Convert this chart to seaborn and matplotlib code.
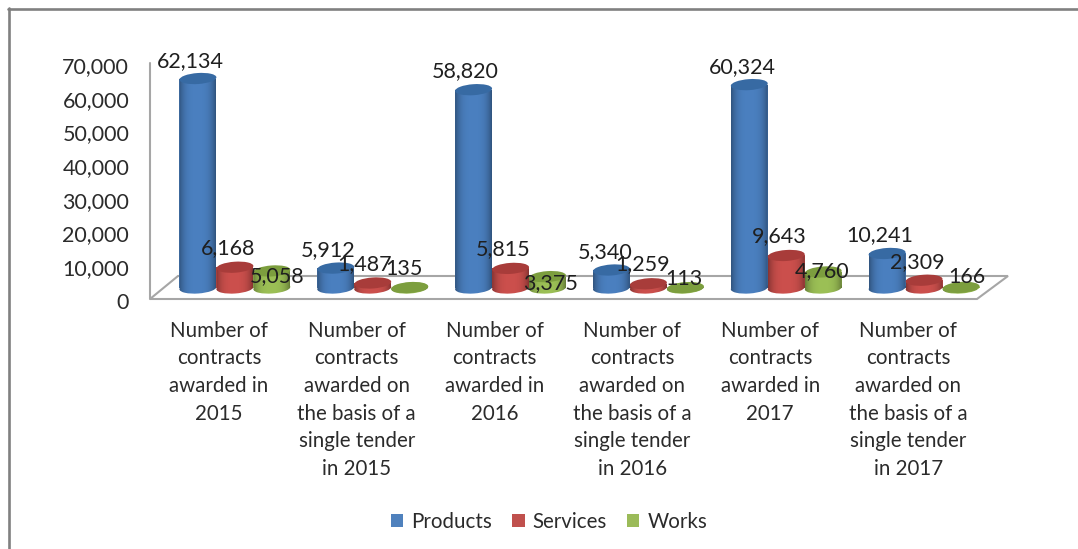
import numpy as np
import pandas as pd
import seaborn as sns
import matplotlib
matplotlib.use("Agg")
import matplotlib.pyplot as plt
from matplotlib.lines import Line2D
from matplotlib.patches import Ellipse, Polygon
from matplotlib.path import Path
from matplotlib.transforms import Affine2D, IdentityTransform

# Contract counts per reporting category
categories = [
    "Number of\ncontracts\nawarded in\n2015",
    "Number of\ncontracts\nawarded on\nthe basis of a\nsingle tender\nin 2015",
    "Number of\ncontracts\nawarded in\n2016",
    "Number of\ncontracts\nawarded on\nthe basis of a\nsingle tender\nin 2016",
    "Number of\ncontracts\nawarded in\n2017",
    "Number of\ncontracts\nawarded on\nthe basis of a\nsingle tender\nin 2017",
]
products = [62134, 5912, 58820, 5340, 60324, 10241]
services = [6168, 1487, 5815, 1259, 9643, 2309]
works = [5058, 135, 3375, 113, 4760, 166]
series_names = ["Products", "Services", "Works"]
yticks = [0, 10000, 20000, 30000, 40000, 50000, 60000, 70000]

# Pixel nudges that keep the value labels from sitting on the cylinder tops
label_shift = {
    "Products": [(-8, 17.5), (-8, 18), (-8, 18.7), (-6, 18), (-7, 17.6), (-7, 18.5)],
    "Services": [(-7, 19), (-8, 19), (-7, 19.4), (-6, 19.8), (-7, 19.5), (-7, 18)],
    "Works": [(5, -5), (-6, 18.5), (3, -6.4), (-1, 8.6), (-1, 1), (6, 10.4)],
}

body_colors = ["#4A7FBF", "#CB4F4C", "#9BBF55"]
cap_colors = ["#376AA3", "#A83C3A", "#7C9E3E"]
legend_colors = ["#4F81BD", "#C0504D", "#9BBB59"]
line_gray = "#A6A6A6"
text_color = "#2B2B2B"
FONT = "Lato"
FONT_SIZE = 15.5
CATEGORY_SIZE = 14.8

W, H = 1078, 549
DEPTH_X, DEPTH_Y = 16, 11        # how far the cylinders stand behind the front edge
CAP_H = 11
CAP_TILT = 4

sns.set_theme(style="white")
plt.rcParams["font.family"] = [FONT, "DejaVu Sans"]

frame = pd.DataFrame({
    "category": np.tile(categories, 3),
    "series": np.repeat(series_names, len(categories)),
    "count": products + services + works,
})

fig = plt.figure(figsize=(W / 100, H / 100), dpi=100, facecolor="white")
ax = fig.add_axes([150 / W, 1 - 299 / H, 827 / W, 236 / H])

sns.barplot(
    data=frame, x="category", y="count", hue="series",
    order=categories, hue_order=series_names,
    palette=legend_colors, saturation=1, width=0.805, gap=0,
    errorbar=None, ax=ax, linewidth=0,
)
handles, labels = ax.get_legend_handles_labels()

ax.set_xlim(-0.5, 5.5)
ax.set_ylim(0, 70000)
ax.set_xlabel("")
ax.set_ylabel("")
ax.set_yticks(yticks)
ax.set_yticklabels([f"{v:,}" for v in yticks])
ax.tick_params(axis="y", length=0, pad=15, labelsize=FONT_SIZE, labelcolor=text_color)
ax.tick_params(axis="x", length=0, pad=15.5, labelsize=CATEGORY_SIZE, labelcolor=text_color)
for lab in ax.get_xticklabels():
    lab.set_linespacing(1.48)
# The numeric scale sits a touch below its gridline position
for tick in ax.yaxis.get_major_ticks():
    tick.label1.set_transform(tick.label1.get_transform() + Affine2D().translate(0, -2))
sns.despine(ax=ax, left=True, bottom=True, top=True, right=True)
ax.patch.set_alpha(0)

# Floor and wall of the chart box
def corner(ax_x, dx=0, dy=0):
    px = ax.transAxes.transform((ax_x, 0))
    return (px[0] + dx, px[1] + dy)

floor = Polygon(
    [corner(0), corner(1), corner(1, 31, 23), corner(0, 28, 23)],
    closed=True, facecolor="white", edgecolor=line_gray, linewidth=1.5,
    transform=IdentityTransform(), clip_on=False, zorder=1,
)
ax.add_patch(floor)
ax.add_line(Line2D([0, 0], [0, 1], transform=ax.transAxes, color=line_gray,
                   linewidth=1.5, clip_on=False, zorder=1))

# Horizontal shading that rounds off each bar
t = np.linspace(-1, 1, 64)
shade = np.zeros((1, t.size, 4))
shade[0, :, 3] = 0.34 * np.abs(t) ** 3.2

shifted = ax.transData + Affine2D().translate(DEPTH_X, DEPTH_Y)
values_by_series = [products, services, works]

for j, container in enumerate(ax.containers):
    name = series_names[j]
    for i, bar in enumerate(container.patches):
        z = 2 + j
        value = values_by_series[j][i]
        bar.set_transform(shifted)
        bar.set_facecolor(body_colors[j])
        bar.set_zorder(z)
        bar.set_clip_on(False)
        x0, x1 = bar.get_x(), bar.get_x() + bar.get_width()
        xc = (x0 + x1) / 2
        left_px = shifted.transform((x0, 0))[0]
        right_px = shifted.transform((x1, 0))[0]
        width_px = right_px - left_px
        base_px = shifted.transform((xc, 0))
        top_px = shifted.transform((xc, value))

        bottom = Ellipse(base_px, width_px, CAP_H, angle=CAP_TILT,
                         facecolor=body_colors[j], edgecolor="none",
                         transform=IdentityTransform(), clip_on=False, zorder=z)
        ax.add_patch(bottom)

        outline = Path.make_compound_path(
            bar.get_path().transformed(bar.get_transform()),
            bottom.get_path().transformed(bottom.get_transform()),
        )
        margin = CAP_H * 70000 / 236
        img = ax.imshow(shade, extent=(x0, x1, -margin, value), aspect="auto",
                        transform=shifted, interpolation="bilinear", zorder=z + 0.1)
        img.set_clip_path(outline, IdentityTransform())

        top = Ellipse(top_px, width_px, CAP_H, angle=CAP_TILT,
                      facecolor=cap_colors[j], edgecolor="none",
                      transform=IdentityTransform(), clip_on=False, zorder=z + 0.2)
        ax.add_patch(top)

        dx, dy = label_shift[name][i]
        ax.annotate(f"{value:,}", xy=(xc, value), xycoords=shifted,
                    xytext=(dx, dy), textcoords="offset pixels",
                    ha="center", va="center", fontsize=FONT_SIZE,
                    color="#1F1F1F", zorder=10, annotation_clip=False)

ax.set_xlim(-0.5, 5.5)
ax.set_ylim(0, 70000)

legend = ax.legend(
    handles, labels, loc="center", bbox_to_anchor=(549 / W, 1 - 522 / H),
    bbox_transform=fig.transFigure, ncol=3, frameon=False, fontsize=14.8,
    handlelength=0.62, handleheight=0.62, handletextpad=0.4, columnspacing=0.95,
    labelcolor=text_color,
)

# Outer frame along the left and top edges
frame_gray = "#808080"
fig.add_artist(Line2D([8.5 / W, 8.5 / W], [0, 1 - 8 / H], color=frame_gray, linewidth=1.9))
fig.add_artist(Line2D([7.5 / W, 1], [1 - 8.5 / H, 1 - 8.5 / H], color=frame_gray, linewidth=1.9))

fig.savefig("out.png", dpi=100, facecolor="white")
